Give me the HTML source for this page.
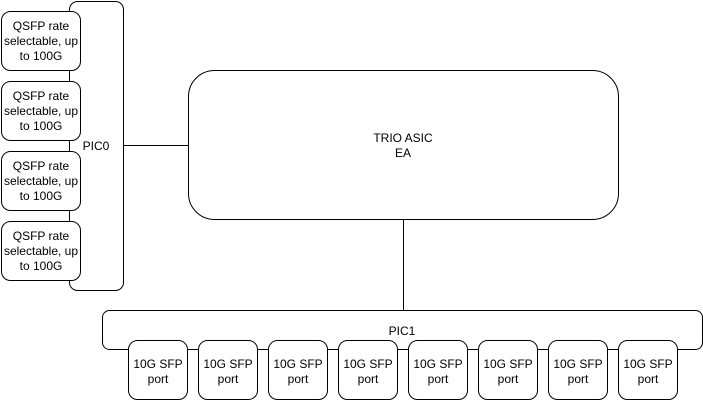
<!DOCTYPE html>
<html><head><meta charset="utf-8"><style>html,body{margin:0;padding:0;background:#fff;}svg{display:block}</style></head>
<body>
<svg width="703" height="401" xmlns="http://www.w3.org/2000/svg" font-family="Liberation Sans, Arial, sans-serif" font-size="12" fill="#000">
<g fill="none" stroke="#000" stroke-width="1">
<line x1="123.5" y1="145.5" x2="188.5" y2="145.5"/>
<line x1="403.5" y1="220" x2="403.5" y2="310.5"/>
<rect x="69.5" y="1.5" width="54" height="289" rx="8" fill="#fff"/>
<rect x="188.5" y="70.5" width="430" height="149" rx="26" fill="#fff"/>
<rect x="102.5" y="310.5" width="600" height="39" rx="7" fill="#fff"/>
</g>
<g fill="#fff" stroke="#000">
<rect x="1.5" y="11.5" width="79" height="59" rx="9"/>
<rect x="1.5" y="81.5" width="79" height="59" rx="9"/>
<rect x="1.5" y="151.5" width="79" height="59" rx="9"/>
<rect x="1.5" y="221.5" width="79" height="59" rx="9"/>
<rect x="128.5" y="340.5" width="59" height="59" rx="9"/>
<rect x="198.5" y="340.5" width="59" height="59" rx="9"/>
<rect x="268.5" y="340.5" width="59" height="59" rx="9"/>
<rect x="338.5" y="340.5" width="59" height="59" rx="9"/>
<rect x="408.5" y="340.5" width="59" height="59" rx="9"/>
<rect x="478.5" y="340.5" width="59" height="59" rx="9"/>
<rect x="548.5" y="340.5" width="59" height="59" rx="9"/>
<rect x="618.5" y="340.5" width="59" height="59" rx="9"/>
</g>
<g text-anchor="middle" fill="#000">
<text x="96" y="150">PIC0</text>
<text x="402" y="335">PIC1</text>
<text x="403" y="142">TRIO ASIC</text>
<text x="403" y="157">EA</text>
<text x="41" y="30">QSFP rate</text><text x="41" y="45">selectable, up</text><text x="41" y="60">to 100G</text>
<text x="41" y="100">QSFP rate</text><text x="41" y="115">selectable, up</text><text x="41" y="130">to 100G</text>
<text x="41" y="170">QSFP rate</text><text x="41" y="185">selectable, up</text><text x="41" y="200">to 100G</text>
<text x="41" y="240">QSFP rate</text><text x="41" y="255">selectable, up</text><text x="41" y="270">to 100G</text>
<text x="158" y="368">10G SFP</text><text x="158" y="383">port</text>
<text x="228" y="368">10G SFP</text><text x="228" y="383">port</text>
<text x="298" y="368">10G SFP</text><text x="298" y="383">port</text>
<text x="368" y="368">10G SFP</text><text x="368" y="383">port</text>
<text x="438" y="368">10G SFP</text><text x="438" y="383">port</text>
<text x="508" y="368">10G SFP</text><text x="508" y="383">port</text>
<text x="578" y="368">10G SFP</text><text x="578" y="383">port</text>
<text x="648" y="368">10G SFP</text><text x="648" y="383">port</text>
</g>
</svg>
</body></html>
